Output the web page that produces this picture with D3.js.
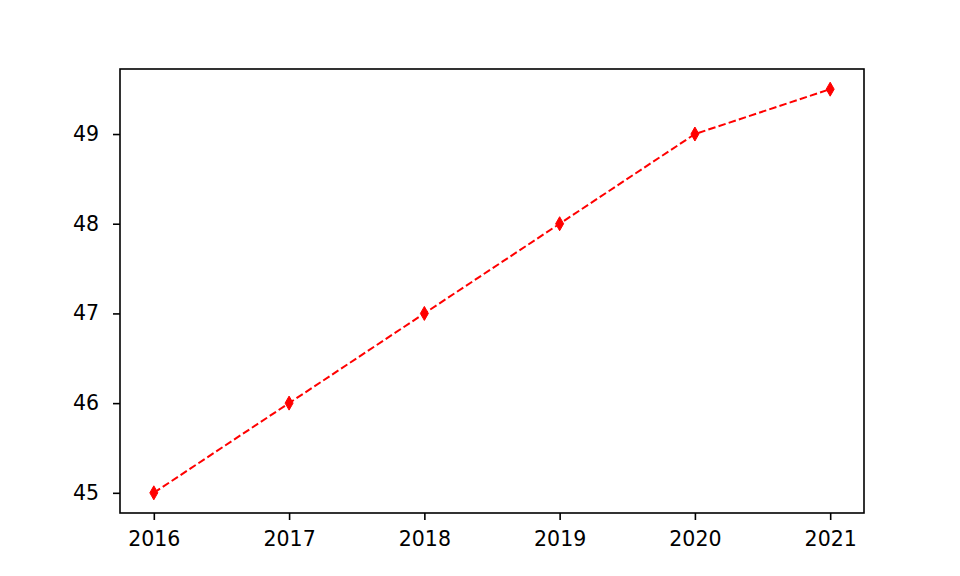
<!DOCTYPE html>
<html>
<head>
<meta charset="utf-8">
<script src="https://cdn.jsdelivr.net/npm/d3@7"></script>
<style>
  body { margin: 0; background: #fff; }
  text { font-family: "DejaVu Sans", sans-serif; }
</style>
</head>
<body>
<div id="chart"></div>
<script>
var years = [2016, 2017, 2018, 2019, 2020, 2021];
var values = [45, 46, 47, 48, 49, 49.5];
var yTicks = [45, 46, 47, 48, 49];

var width = 960, height = 576;
var margin = {top: 69, right: 96, bottom: 63, left: 120};

var svg = d3.select("#chart").append("svg")
    .attr("width", width)
    .attr("height", height);

var x = d3.scaleLinear()
    .domain([2015.75, 2021.25])
    .range([margin.left, width - margin.right]);

var y = d3.scaleLinear()
    .domain([44.775, 49.725])
    .range([height - margin.bottom, margin.top]);

var data = years.map((d, i) => ({year: d, value: values[i]}));

var xAxis = svg.append("g")
    .attr("transform", "translate(0," + (height - margin.bottom) + ")")
    .call(d3.axisBottom(x).tickValues(years).tickFormat(d3.format("d")).tickSize(7).tickPadding(11));

var yAxis = svg.append("g")
    .attr("transform", "translate(" + margin.left + ",0)")
    .call(d3.axisLeft(y).tickValues(yTicks).tickFormat(d3.format("d")).tickSize(7).tickPadding(14));

[xAxis, yAxis].forEach(function(a) {
    a.select(".domain").remove();
    a.selectAll(".tick line").attr("stroke", "#000").attr("stroke-width", 1.6);
    a.selectAll(".tick text").attr("font-size", 20.5).attr("fill", "#000")
        .style("font-family", "DejaVu Sans");
});

// frame
svg.append("rect")
    .attr("x", margin.left)
    .attr("y", margin.top)
    .attr("width", width - margin.left - margin.right)
    .attr("height", height - margin.top - margin.bottom)
    .attr("fill", "none")
    .attr("stroke", "#000")
    .attr("stroke-width", 1.6);

var line = d3.line()
    .x(d => x(d.year))
    .y(d => y(d.value));

svg.append("path")
    .datum(data)
    .attr("d", line)
    .attr("fill", "none")
    .attr("stroke", "red")
    .attr("stroke-width", 2)
    .attr("stroke-dasharray", "7.5,3.2");

// thin diamond markers
svg.selectAll(".marker")
    .data(data)
    .enter().append("path")
    .attr("class", "marker")
    .attr("d", "M0,-7L4,0L0,7L-4,0Z")
    .attr("transform", d => "translate(" + x(d.year) + "," + y(d.value) + ")")
    .attr("fill", "red")
    .attr("stroke", "red")
    .attr("stroke-width", 1);
</script>
</body>
</html>
